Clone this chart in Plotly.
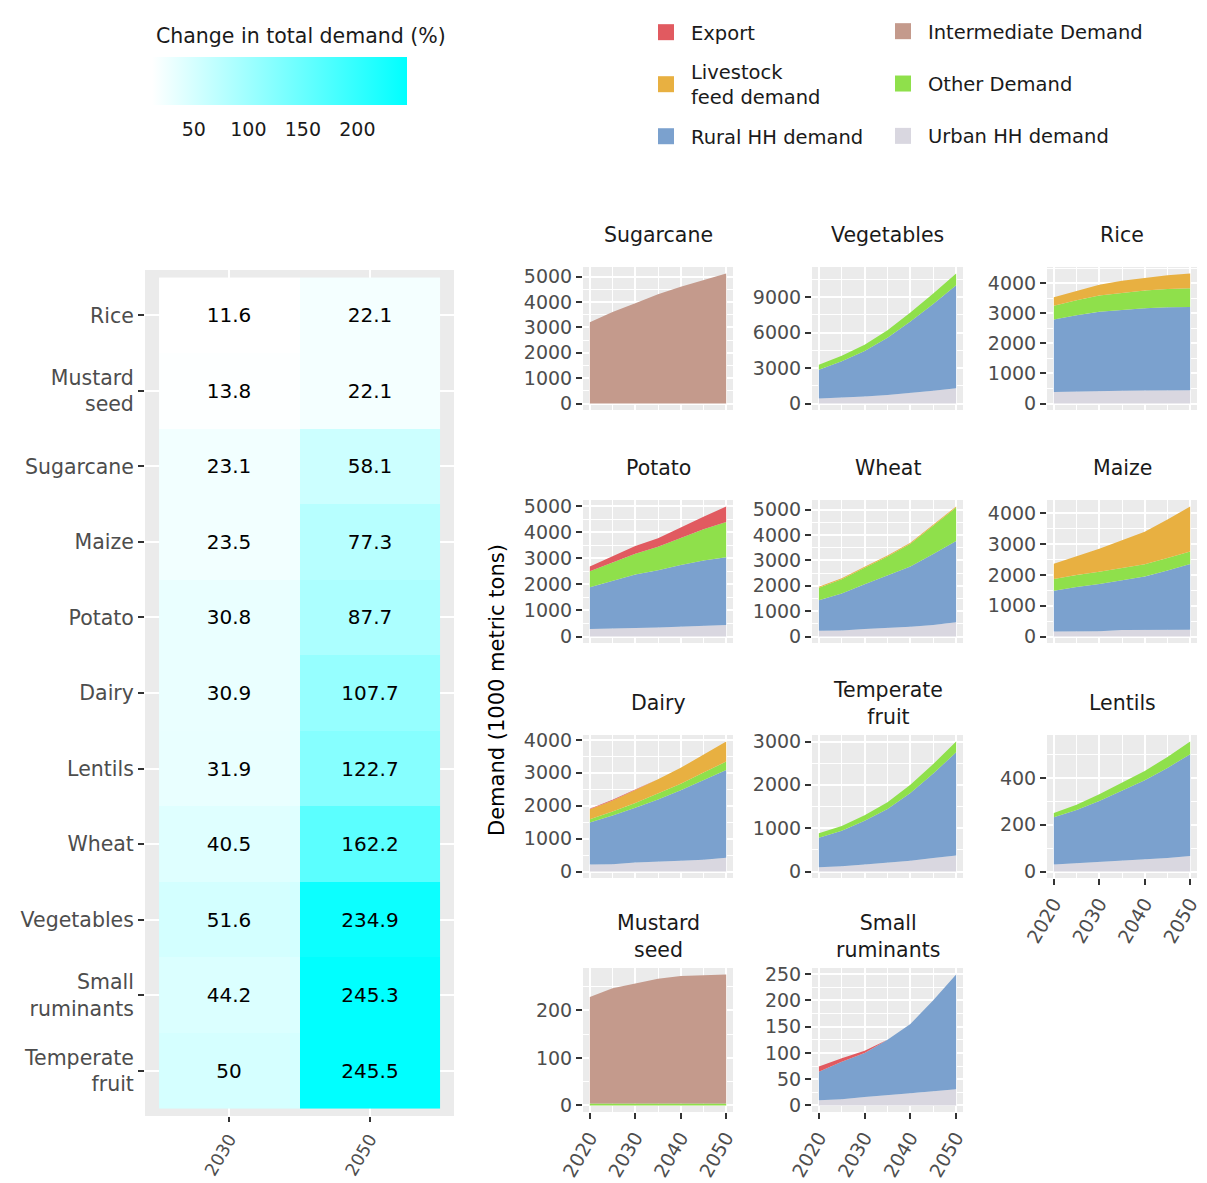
import plotly.graph_objects as go

W, H = 1207, 1183
FONT = "DejaVu Sans"

# ---------------- heatmap data ----------------
heat_crops = ["Rice", "Mustard<br>seed", "Sugarcane", "Maize", "Potato", "Dairy",
              "Lentils", "Wheat", "Vegetables", "Small<br>ruminants", "Temperate<br>fruit"]
heat_years = ["2030", "2050"]
change_2030 = [11.6, 13.8, 23.1, 23.5, 30.8, 30.9, 31.9, 40.5, 51.6, 44.2, 50]
change_2050 = [22.1, 22.1, 58.1, 77.3, 87.7, 107.7, 122.7, 162.2, 234.9, 245.3, 245.5]
colorbar_ticks = [50, 100, 150, 200]

# ---------------- demand data (1000 metric tons) ----------------
years = [2020, 2025, 2030, 2035, 2040, 2045, 2050]
year_ticks = [2020, 2030, 2040, 2050]

sugarcane_intermediate = [3200, 3600, 3950, 4300, 4600, 4870, 5120]

vegetables_urban = [430, 500, 600, 720, 880, 1080, 1290]
vegetables_rural = [2425, 3070, 3840, 4840, 6060, 7340, 8710]
vegetables_other = [430, 480, 540, 640, 760, 880, 1000]

rice_urban = [385, 390, 395, 420, 430, 435, 440]
rice_rural = [2401, 2540, 2651, 2690, 2730, 2760, 2768]
rice_other = [460, 500, 540, 570, 590, 605, 620]
rice_livestock = [285, 320, 360, 400, 430, 460, 490]

potato_urban = [292, 300, 330, 350, 380, 400, 446]
potato_rural = [1604, 1850, 2050, 2200, 2370, 2520, 2604]
potato_other = [615, 700, 800, 900, 1050, 1200, 1346]
potato_export = [180, 250, 300, 330, 400, 480, 600]

wheat_urban = [230, 240, 300, 330, 380, 450, 560]
wheat_rural = [1200, 1460, 1760, 2080, 2380, 2810, 3210]
wheat_other = [490, 560, 650, 750, 900, 1100, 1320]
wheat_livestock = [40, 40, 40, 40, 40, 40, 40]

maize_urban = [165, 165, 170, 215, 215, 220, 220]
maize_rural = [1320, 1445, 1535, 1610, 1735, 1925, 2139]
maize_other = [385, 390, 395, 400, 400, 405, 405]
maize_livestock = [490, 600, 750, 900, 1050, 1250, 1460]

dairy_urban = [215, 220, 270, 290, 330, 360, 418]
dairy_rural = [1275, 1480, 1665, 1900, 2140, 2420, 2666]
dairy_other = [100, 120, 150, 180, 200, 230, 256]
dairy_livestock = [300, 340, 390, 430, 480, 540, 610]
dairy_export = [20, 20, 15, 0, 0, 0, 0]

temperate_urban = [100, 120, 160, 200, 250, 310, 370]
temperate_rural = [680, 820, 1010, 1240, 1560, 1950, 2380]
temperate_other = [100, 110, 130, 160, 190, 220, 250]

lentils_urban = [30, 35, 40, 45, 50, 58, 66]
lentils_rural = [202, 228, 262, 301, 340, 385, 436]
lentils_other = [18, 22, 28, 34, 40, 47, 54]

mustard_other = [4, 4, 4, 4, 4, 4, 4]
mustard_intermediate = [224, 242, 252, 262, 268, 270, 271]

smallrum_urban = [10, 12, 16, 19, 23, 27, 31]
smallrum_rural = [54, 71, 84, 106, 132, 173, 218]
smallrum_export = [10, 7, 4, 0, 0, 0, 0]

# ---------------- styling ----------------
cat_names = {
    "export": "Export",
    "intermediate": "Intermediate Demand",
    "livestock": "Livestock<br>feed demand",
    "other": "Other Demand",
    "rural": "Rural HH demand",
    "urban": "Urban HH demand",
}
cat_colors = {
    "export": "#E15A60",
    "intermediate": "#C49A8C",
    "livestock": "#E8B041",
    "other": "#8FE04B",
    "rural": "#7BA1CE",
    "urban": "#D9D7E0",
}
stack_order = ["urban", "rural", "other", "livestock", "intermediate", "export"]

panels = [
    ("Sugarcane", 0, 0, 1000, {"intermediate": sugarcane_intermediate}),
    ("Vegetables", 0, 1, 3000, {"urban": vegetables_urban, "rural": vegetables_rural, "other": vegetables_other}),
    ("Rice", 0, 2, 1000, {"urban": rice_urban, "rural": rice_rural, "other": rice_other, "livestock": rice_livestock}),
    ("Potato", 1, 0, 1000, {"urban": potato_urban, "rural": potato_rural, "other": potato_other, "export": potato_export}),
    ("Wheat", 1, 1, 1000, {"urban": wheat_urban, "rural": wheat_rural, "other": wheat_other, "livestock": wheat_livestock}),
    ("Maize", 1, 2, 1000, {"urban": maize_urban, "rural": maize_rural, "other": maize_other, "livestock": maize_livestock}),
    ("Dairy", 2, 0, 1000, {"urban": dairy_urban, "rural": dairy_rural, "other": dairy_other,
                           "livestock": dairy_livestock, "export": dairy_export}),
    ("Temperate<br>fruit", 2, 1, 1000, {"urban": temperate_urban, "rural": temperate_rural, "other": temperate_other}),
    ("Lentils", 2, 2, 200, {"urban": lentils_urban, "rural": lentils_rural, "other": lentils_other}),
    ("Mustard<br>seed", 3, 0, 100, {"other": mustard_other, "intermediate": mustard_intermediate}),
    ("Small<br>ruminants", 3, 1, 50, {"urban": smallrum_urban, "rural": smallrum_rural, "export": smallrum_export}),
]
bottom_panels = {"Lentils", "Mustard<br>seed", "Small<br>ruminants"}

col_px = [(583, 733), (812, 963), (1047, 1197)]
row_px = [(267, 410), (500, 643), (735, 878), (968, 1112)]

BG = "#EBEBEB"
TICKCOL = "#333333"
LABCOL = "#4D4D4D"
TXTCOL = "#1A1A1A"


def xd(a, b):
    return [a / W, b / W]


def yd(top, bottom):
    return [1 - bottom / H, 1 - top / H]


fig = go.Figure()

# ---------------- heatmap ----------------
fig.add_trace(go.Heatmap(
    x=heat_years, y=heat_crops,
    z=[[a, b] for a, b in zip(change_2030, change_2050)],
    colorscale=[[0, "#FFFFFF"], [1, "#00FFFF"]],
    texttemplate="%{z}",
    textfont=dict(family=FONT, size=20, color="black"),
    xaxis="x", yaxis="y", hoverinfo="skip",
    colorbar=dict(
        orientation="h", x=152 / W, xanchor="left", y=1 - 57 / H, yanchor="top",
        len=255, lenmode="pixels", thickness=48, thicknessmode="pixels",
        outlinewidth=0, xpad=0, ypad=0,
        tickvals=colorbar_ticks, ticks="outside", ticklen=9, tickcolor="white", tickwidth=1,
        tickfont=dict(family=FONT, size=19, color=TXTCOL),
    ),
))

layout_axes = {}
layout_axes["xaxis"] = dict(
    domain=xd(145, 454), anchor="y", range=[-0.6, 1.6], type="category",
    tickangle=-60, ticks="outside", ticklen=5, tickwidth=1.5, tickcolor=TICKCOL,
    tickfont=dict(family=FONT, size=17.5, color=LABCOL), showgrid=True, gridcolor="white",
    gridwidth=2, zeroline=False, showline=False, fixedrange=True,
)
layout_axes["yaxis"] = dict(
    domain=yd(270, 1116), anchor="x", range=[10.6, -0.6], type="category",
    ticks="outside", ticklen=6, tickwidth=1.5, tickcolor=TICKCOL,
    tickfont=dict(family=FONT, size=20.5, color=LABCOL), showgrid=True, gridcolor="white",
    gridwidth=2, zeroline=False, showline=False, fixedrange=True,
)

annotations = [dict(
    text="Change in total demand (%)", x=154 / W, y=1 - 36 / H, xref="paper", yref="paper",
    xanchor="left", yanchor="middle", showarrow=False,
    font=dict(family=FONT, size=20.5, color=TXTCOL),
)]

# ---------------- area panels ----------------
for i, (title, r, c, dtick, layers) in enumerate(panels):
    k = i + 2
    xa, ya = f"x{k}", f"y{k}"
    totals = [0] * len(years)
    for cat in stack_order:
        if cat not in layers:
            continue
        vals = layers[cat]
        totals = [t + v for t, v in zip(totals, vals)]
        fig.add_trace(go.Scatter(
            x=years, y=vals, stackgroup=f"s{k}", mode="lines",
            line=dict(width=0, color=cat_colors[cat]), fillcolor=cat_colors[cat],
            xaxis=xa, yaxis=ya, showlegend=False, hoverinfo="skip", name=cat_names[cat],
        ))
    ymax = max(totals)
    x0, x1 = col_px[c]
    top, bot = row_px[r]
    is_bottom = title in bottom_panels
    layout_axes[f"xaxis{k}"] = dict(
        domain=xd(x0, x1), anchor=ya, range=[2018.5, 2051.5], tickvals=year_ticks,
        showticklabels=is_bottom, ticks="outside" if is_bottom else "", ticklen=6, tickwidth=1.5,
        tickcolor=TICKCOL, tickangle=-60, tickfont=dict(family=FONT, size=19, color=LABCOL),
        showgrid=True, gridcolor="white", gridwidth=2, zeroline=False, showline=False,
        minor=dict(dtick=5, tick0=2015, showgrid=True, gridcolor="white", gridwidth=1),
        fixedrange=True,
    )
    layout_axes[f"yaxis{k}"] = dict(
        domain=yd(top, bot), anchor=xa, range=[-0.05 * ymax, 1.05 * ymax],
        tick0=0, dtick=dtick, tickformat="d", ticks="outside", ticklen=6, tickwidth=1.5,
        tickcolor=TICKCOL, tickfont=dict(family=FONT, size=19, color=LABCOL),
        showgrid=True, gridcolor="white", gridwidth=2, zeroline=False, showline=False,
        minor=dict(dtick=dtick / 2, tick0=0, showgrid=True, gridcolor="white", gridwidth=1),
        fixedrange=True,
    )
    annotations.append(dict(
        text=title, x=(x0 + x1) / 2 / W, y=1 - (top - 32) / H, xref="paper", yref="paper",
        xanchor="center", yanchor="middle", showarrow=False,
        font=dict(family=FONT, size=20.5, color=TXTCOL),
    ))

annotations.append(dict(
    text="Demand (1000 metric tons)", x=497 / W, y=1 - 690 / H, xref="paper", yref="paper",
    xanchor="center", yanchor="middle", textangle=-90, showarrow=False,
    font=dict(family=FONT, size=21, color="black"),
))

# ---------------- legend entries ----------------
legend_cols = {
    "legend": ["export", "livestock", "rural"],
    "legend2": ["intermediate", "other", "urban"],
}
for lg, cats in legend_cols.items():
    for j, cat in enumerate(cats):
        fig.add_trace(go.Scatter(
            x=[None], y=[None], mode="markers", name=cat_names[cat],
            marker=dict(symbol="square", size=16, color=cat_colors[cat]),
            xaxis="x2", yaxis="y2", showlegend=True, legend=lg,
            legendgroup=f"{lg}_{j}", hoverinfo="skip",
        ))

leg_common = dict(
    orientation="v", xanchor="left", yanchor="top", bgcolor="rgba(0,0,0,0)",
    font=dict(family=FONT, size=19.5, color=TXTCOL), traceorder="grouped",
    itemclick=False, itemdoubleclick=False, itemwidth=40,
)

fig.update_layout(
    width=W, height=H,
    margin=dict(l=0, r=0, t=0, b=0, autoexpand=False),
    paper_bgcolor="white", plot_bgcolor=BG,
    font=dict(family=FONT, color=TXTCOL),
    annotations=annotations,
    legend=dict(x=641 / W, y=1 - 13 / H, tracegroupgap=11, **leg_common),
    legend2=dict(x=878 / W, y=1 - 12 / H, tracegroupgap=24, **leg_common),
    **layout_axes,
)

fig.write_html("out.html")
